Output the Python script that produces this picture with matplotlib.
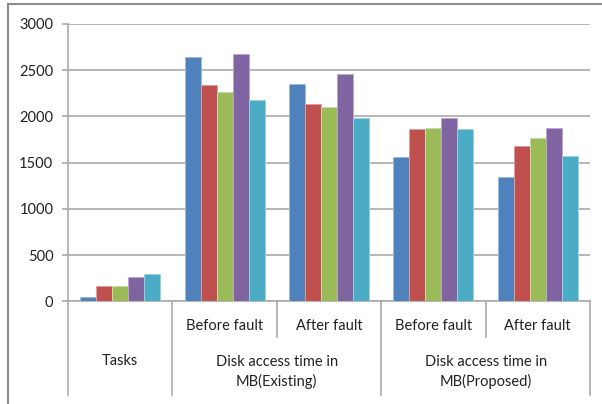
import matplotlib
matplotlib.use("Agg")
import matplotlib.pyplot as plt
from matplotlib.lines import Line2D
from matplotlib.colors import to_rgb
import matplotlib.transforms as mtransforms
import numpy as np

plt.rcParams['font.family'] = ['Lato', 'DejaVu Sans']

# Inner category labels (level 1) and outer group labels (level 2)
sub_labels = ["", "Before fault", "After fault", "Before fault", "After fault"]
group_labels = ["Tasks", "Disk access time in\nMB(Existing)", "Disk access time in\nMB(Proposed)"]
group_spans = [(0, 0), (1, 2), (3, 4)]

# Five series per category
series_1 = [50, 2645, 2346, 1562, 1349]
series_2 = [170, 2339, 2137, 1861, 1680]
series_3 = [170, 2260, 2098, 1878, 1763]
series_4 = [258, 2677, 2455, 1983, 1878]
series_5 = [293, 2177, 1983, 1867, 1572]
series = [series_1, series_2, series_3, series_4, series_5]
colors = ["#4F81BD", "#C0504D", "#9BBB59", "#8064A2", "#4BACC6"]

yticks = [0, 500, 1000, 1500, 2000, 2500, 3000]

W, H = 602, 404
fig = plt.figure(figsize=(W / 100, H / 100), dpi=100)
ax_left, ax_right, ax_top, ax_bottom = 68, 590, 23.8, 301.3
ax = fig.add_axes([ax_left / W, (H - ax_bottom) / H,
                   (ax_right - ax_left) / W, (ax_bottom - ax_top) / H])

n_cat = len(sub_labels)
x = np.arange(n_cat)
bw = 0.153
for i, (vals, c) in enumerate(zip(series, colors)):
    light = tuple(min(1, v + (1 - v) * 0.45) for v in to_rgb(c))
    ax.bar(x + (i - 2) * bw, vals, width=bw, color=c, edgecolor=light,
           linewidth=0.7, zorder=3)

ax.set_xlim(-0.5, n_cat - 0.5)
ax.set_ylim(0, 3000)
ax.set_yticks(yticks)
ax.set_yticklabels([str(t) for t in yticks], fontsize=10.5, color="#222222")
ax.tick_params(axis='y', length=4.3, width=1.2, color="#AAAAAA", pad=6.3)
ax.yaxis.grid(True, color="#AAAAAA", linewidth=1.2, zorder=0)
ax.set_xticks([])
for s in ["top", "right"]:
    ax.spines[s].set_visible(False)
ax.spines["left"].set_color("#AAAAAA")
ax.spines["left"].set_linewidth(1.2)
ax.spines["bottom"].set_color("#AAAAAA")
ax.spines["bottom"].set_linewidth(1.2)

# Multi-level category axis below the plot
trans = mtransforms.blended_transform_factory(ax.transData, ax.transAxes)
ph = ax_bottom - ax_top
y_short = -(337 - ax_bottom) / ph
y_long = -(395 - ax_bottom) / ph
sep_color = "#AAAAAA"

boundaries = [b - 0.5 for b in range(n_cat + 1)]
group_edges = {s - 0.5 for s, _ in group_spans} | {e + 0.5 for _, e in group_spans}
for b in boundaries:
    yb = y_long if any(abs(b - g) < 1e-9 for g in group_edges) else y_short
    ax.add_line(Line2D([b, b], [0, yb], transform=trans, color=sep_color,
                       linewidth=1.2, clip_on=False))

y_sub = -(326 - ax_bottom) / ph
for i, lab in enumerate(sub_labels):
    if lab:
        ax.text(i, y_sub, lab, transform=trans, ha="center", va="center",
                fontsize=10.5, color="#222222")

y_grp = -(372 - ax_bottom) / ph
y_grp_single = -(361 - ax_bottom) / ph
for (s, e), lab in zip(group_spans, group_labels):
    yy = y_grp if "\n" in lab else y_grp_single
    ax.text((s + e) / 2, yy, lab, transform=trans, ha="center", va="center",
            fontsize=10.5, color="#222222", linespacing=1.45)

# Outer chart frame (top and left edges)
fig.add_artist(Line2D([7.5 / W, 1.0], [1 - 3.5 / H, 1 - 3.5 / H],
                      transform=fig.transFigure, color="#8C8C8C", linewidth=1.5))
fig.add_artist(Line2D([7.5 / W, 7.5 / W], [0, 1 - 3.5 / H],
                      transform=fig.transFigure, color="#8C8C8C", linewidth=1.5))

fig.savefig("out.png", dpi=100)
